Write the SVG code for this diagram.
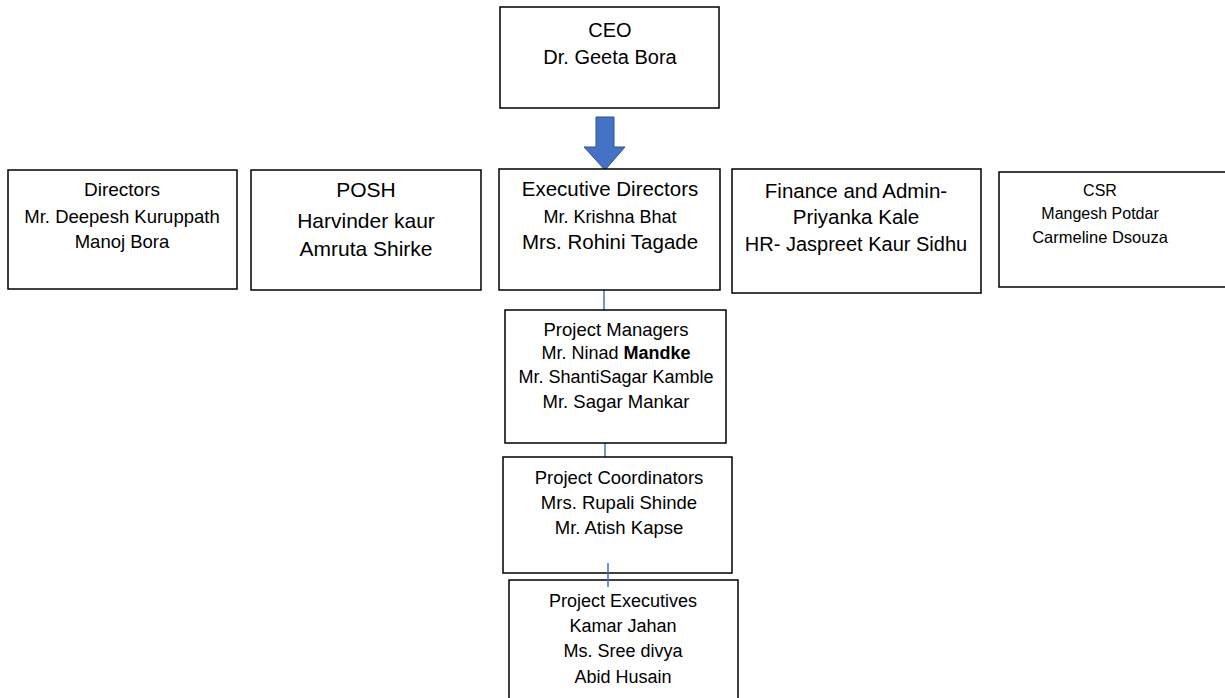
<svg xmlns="http://www.w3.org/2000/svg" width="1225" height="698" viewBox="0 0 1225 698">
<style>
.box{fill:#fff;stroke:#000;stroke-width:1.5}
text{font-family:"Liberation Sans",Arial,sans-serif;fill:#000;text-anchor:middle}
.conn{stroke:#4472C4;stroke-width:1.5;fill:none}
</style>
<rect width="1225" height="698" fill="#fff"/>
<g id="connectors">
<path d="M596,117 H614 V147 H625 L605,170 L584,147 H596 Z" fill="#4472C4" stroke="#2F528F" stroke-width="1"/>
<line class="conn" x1="604" y1="290" x2="604" y2="310"/>
<line class="conn" x1="605" y1="443" x2="605" y2="457"/>
</g>
<g id="ceo">
<rect class="box" x="500" y="7" width="219" height="101"/>
<text x="610" y="37" font-size="20">CEO</text>
<text x="610" y="64" font-size="20">Dr. Geeta Bora</text>
</g>
<g id="directors">
<rect class="box" x="8" y="170" width="229" height="119"/>
<text x="122" y="196" font-size="19">Directors</text>
<text x="122" y="223" font-size="18.5">Mr. Deepesh Kuruppath</text>
<text x="122" y="248" font-size="18.5">Manoj Bora</text>
</g>
<g id="posh">
<rect class="box" x="251" y="170" width="230" height="120"/>
<text x="366" y="197" font-size="21">POSH</text>
<text x="366" y="228" font-size="21">Harvinder kaur</text>
<text x="366" y="256" font-size="21">Amruta Shirke</text>
</g>
<g id="exec-directors">
<rect class="box" x="499" y="169" width="221" height="121"/>
<text x="610" y="196" font-size="20.5">Executive Directors</text>
<text x="610" y="223" font-size="18">Mr. Krishna Bhat</text>
<text x="610" y="249" font-size="20.5">Mrs. Rohini Tagade</text>
</g>
<g id="finance">
<rect class="box" x="732" y="169" width="249" height="124"/>
<text x="856" y="198" font-size="20.5">Finance and Admin-</text>
<text x="856" y="224" font-size="20.5">Priyanka Kale</text>
<text x="856" y="251" font-size="20">HR- Jaspreet Kaur Sidhu</text>
</g>
<g id="csr">
<rect class="box" x="999" y="172" width="230" height="115"/>
<text x="1100" y="196" font-size="16">CSR</text>
<text x="1100" y="219" font-size="16">Mangesh Potdar</text>
<text x="1100" y="243" font-size="16.5">Carmeline Dsouza</text>
</g>
<g id="project-managers">
<rect class="box" x="505" y="310" width="221" height="133"/>
<text x="616" y="336" font-size="18.5">Project Managers</text>
<text x="616" y="359" font-size="18">Mr. Ninad <tspan font-weight="bold">Mandke</tspan></text>
<text x="616" y="383" font-size="18">Mr. ShantiSagar Kamble</text>
<text x="616" y="408" font-size="18.5">Mr. Sagar Mankar</text>
</g>
<g id="project-coordinators">
<rect class="box" x="503" y="457" width="229" height="116"/>
<text x="619" y="484" font-size="18.5">Project Coordinators</text>
<text x="619" y="509" font-size="18.5">Mrs. Rupali Shinde</text>
<text x="619" y="534" font-size="18.5">Mr. Atish Kapse</text>
</g>
<g id="project-executives">
<rect class="box" x="509" y="580" width="229" height="130"/>
<text x="623" y="607" font-size="18">Project Executives</text>
<text x="623" y="632" font-size="18">Kamar Jahan</text>
<text x="623" y="657" font-size="18">Ms. Sree divya</text>
<text x="623" y="683" font-size="18">Abid Husain</text>
</g>
<line class="conn" x1="608" y1="563" x2="608" y2="587"/>
</svg>
